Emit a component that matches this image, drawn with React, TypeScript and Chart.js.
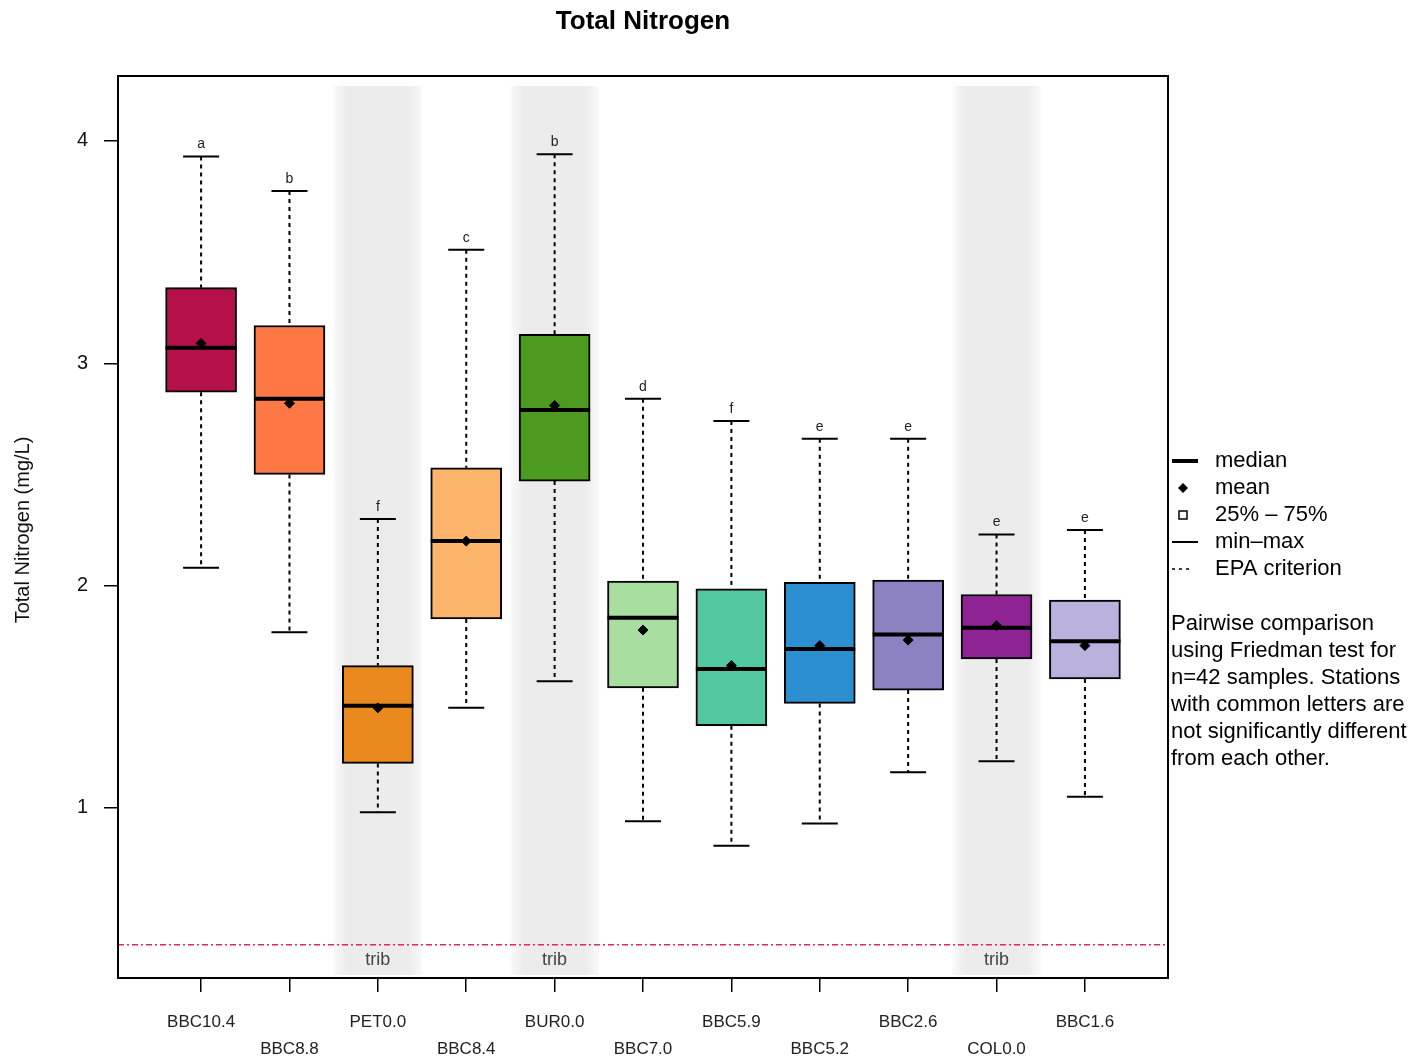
import React, { useEffect, useRef } from "react";
import { Chart, registerables } from "chart.js";

Chart.register(...registerables);

const stations = ["BBC10.4", "BBC8.8", "PET0.0", "BBC8.4", "BUR0.0", "BBC7.0", "BBC5.9", "BBC5.2", "BBC2.6", "COL0.0", "BBC1.6"];
const minVals = [2.08, 1.79, 0.98, 1.45, 1.57, 0.94, 0.83, 0.93, 1.16, 1.21, 1.05];
const q1Vals = [2.87, 2.50, 1.20, 1.85, 2.47, 1.54, 1.37, 1.47, 1.53, 1.67, 1.58];
const medianVals = [3.07, 2.84, 1.46, 2.20, 2.79, 1.855, 1.625, 1.715, 1.78, 1.81, 1.75];
const meanVals = [3.09, 2.82, 1.45, 2.20, 2.81, 1.80, 1.64, 1.73, 1.755, 1.82, 1.73];
const q3Vals = [3.34, 3.17, 1.64, 2.53, 3.13, 2.02, 1.985, 2.015, 2.025, 1.96, 1.935];
const maxVals = [3.93, 3.775, 2.30, 3.51, 3.94, 2.84, 2.74, 2.66, 2.66, 2.23, 2.25];
const letters = ["a", "b", "f", "c", "b", "d", "f", "e", "e", "e", "e"];
const isTrib = [false, false, true, false, true, false, false, false, false, true, false];
const boxColors = ["#b5104a", "#fd7845", "#ea891e", "#fdb56b", "#4d9a20", "#a8dea0", "#52c8a0", "#2c90d0", "#8c82c2", "#8e2493", "#bab2dd"];
const yTicks = [1, 2, 3, 4];
const epaCriterion = 0.384;
const legendItems = ["median", "mean", "25% \u2013 75%", "min\u2013max", "EPA criterion"];
const noteLines = ["Pairwise comparison", "using Friedman test for", "n=42 samples. Stations", "with common letters are", "not significantly different", "from each other."];

const FONT = "'Liberation Sans', Arial, sans-serif";

const boxPlugin = {
  id: "boxExtras",
  beforeDatasetsDraw(chart: any) {
    const { ctx, chartArea, scales } = chart;
    const xs = scales.x;
    const ys = scales.y;
    ctx.save();
    // tributary bands
    stations.forEach((_, i) => {
      if (!isTrib[i]) return;
      const x0 = xs.getPixelForValue(i + 1 - 0.5);
      const x1 = xs.getPixelForValue(i + 1 + 0.5);
      const top = chartArea.top + 10;
      const bot = chartArea.bottom - 3;
      const g = ctx.createLinearGradient(x0, 0, x1, 0);
      g.addColorStop(0, "rgba(236,236,236,0.3)");
      g.addColorStop(0.15, "rgba(236,236,236,1)");
      g.addColorStop(0.85, "rgba(236,236,236,1)");
      g.addColorStop(1, "rgba(236,236,236,0.3)");
      ctx.fillStyle = g;
      ctx.fillRect(x0, top, x1 - x0, bot - top);
      ctx.fillStyle = "#444";
      ctx.font = `18px ${FONT}`;
      ctx.textAlign = "center";
      ctx.textBaseline = "middle";
      ctx.fillText("trib", xs.getPixelForValue(i + 1), chartArea.bottom - 18);
    });
    // EPA line
    const ye = ys.getPixelForValue(epaCriterion);
    ctx.strokeStyle = "#e8264e";
    ctx.lineWidth = 1.5;
    ctx.setLineDash([6, 3, 2, 3]);
    ctx.beginPath();
    ctx.moveTo(chartArea.left, ye);
    ctx.lineTo(chartArea.right, ye);
    ctx.stroke();
    ctx.setLineDash([]);
    // whiskers
    stations.forEach((_, i) => {
      const xc = xs.getPixelForValue(i + 1);
      const yMin = ys.getPixelForValue(minVals[i]);
      const yQ1 = ys.getPixelForValue(q1Vals[i]);
      const yQ3 = ys.getPixelForValue(q3Vals[i]);
      const yMax = ys.getPixelForValue(maxVals[i]);
      ctx.strokeStyle = "#000";
      ctx.lineWidth = 2;
      ctx.setLineDash([4, 4]);
      ctx.beginPath();
      ctx.moveTo(xc, yMax);
      ctx.lineTo(xc, yQ3);
      ctx.moveTo(xc, yQ1);
      ctx.lineTo(xc, yMin);
      ctx.stroke();
      ctx.setLineDash([]);
      ctx.lineWidth = 2;
      ctx.beginPath();
      ctx.moveTo(xc - 18, yMax);
      ctx.lineTo(xc + 18, yMax);
      ctx.moveTo(xc - 18, yMin);
      ctx.lineTo(xc + 18, yMin);
      ctx.stroke();
      ctx.fillStyle = "#222";
      ctx.font = `14px ${FONT}`;
      ctx.textAlign = "center";
      ctx.textBaseline = "middle";
      ctx.fillText(letters[i], xc, yMax - 12);
    });
    ctx.restore();
  },
  afterDatasetsDraw(chart: any) {
    const { ctx, scales } = chart;
    const xs = scales.x;
    const ys = scales.y;
    ctx.save();
    stations.forEach((_, i) => {
      const xc = xs.getPixelForValue(i + 1);
      const ym = ys.getPixelForValue(medianVals[i]);
      ctx.strokeStyle = "#000";
      ctx.lineWidth = 4;
      ctx.beginPath();
      ctx.moveTo(xc - 35.5, ym);
      ctx.lineTo(xc + 35.5, ym);
      ctx.stroke();
    });
    ctx.restore();
  },
  afterDraw(chart: any) {
    const { ctx, chartArea } = chart;
    ctx.save();
    // frame
    ctx.strokeStyle = "#000";
    ctx.lineWidth = 2;
    ctx.strokeRect(chartArea.left, chartArea.top, chartArea.right - chartArea.left, chartArea.bottom - chartArea.top);
    // title
    ctx.fillStyle = "#000";
    ctx.font = `bold 26px ${FONT}`;
    ctx.textAlign = "center";
    ctx.textBaseline = "middle";
    ctx.fillText("Total Nitrogen", (chartArea.left + chartArea.right) / 2, 22);
    // y axis title
    ctx.save();
    ctx.translate(23, (chartArea.top + chartArea.bottom) / 2 + 3);
    ctx.rotate(-Math.PI / 2);
    ctx.font = `20px ${FONT}`;
    ctx.fillStyle = "#111";
    ctx.fillText("Total Nitrogen (mg/L)", 0, 0);
    ctx.restore();
    // legend
    const lx = 1172;
    const tx = 1215;
    const ly0 = 461;
    const step = 27;
    ctx.strokeStyle = "#000";
    ctx.fillStyle = "#000";
    // median
    ctx.lineWidth = 4;
    ctx.beginPath();
    ctx.moveTo(lx, ly0);
    ctx.lineTo(lx + 26, ly0);
    ctx.stroke();
    // mean
    const my = ly0 + step;
    ctx.beginPath();
    ctx.moveTo(lx + 11, my - 5);
    ctx.lineTo(lx + 16, my);
    ctx.lineTo(lx + 11, my + 5);
    ctx.lineTo(lx + 6, my);
    ctx.closePath();
    ctx.fill();
    // box
    ctx.lineWidth = 1.5;
    ctx.strokeRect(lx + 7, ly0 + 2 * step - 4, 8, 8);
    // min-max
    ctx.lineWidth = 2;
    ctx.beginPath();
    ctx.moveTo(lx, ly0 + 3 * step);
    ctx.lineTo(lx + 26, ly0 + 3 * step);
    ctx.stroke();
    // EPA
    ctx.lineWidth = 1.5;
    ctx.setLineDash([3, 4]);
    ctx.beginPath();
    ctx.moveTo(lx, ly0 + 4 * step);
    ctx.lineTo(lx + 18, ly0 + 4 * step);
    ctx.stroke();
    ctx.setLineDash([]);
    ctx.font = `22px ${FONT}`;
    ctx.textAlign = "left";
    ctx.textBaseline = "middle";
    ctx.fillStyle = "#000";
    legendItems.forEach((t, i) => ctx.fillText(t, tx, ly0 + i * step));
    noteLines.forEach((t, i) => ctx.fillText(t, 1171, 624 + i * 27));
    ctx.restore();
  },
};

export default function App() {
  const ref = useRef<HTMLCanvasElement | null>(null);
  useEffect(() => {
    if (!ref.current) return;
    const boxData = stations.map((_, i) => ({ x: i + 1, y: [q1Vals[i], q3Vals[i]] }));
    const meanData = stations.map((_, i) => ({ x: i + 1, y: meanVals[i] }));
    const chart = new Chart(ref.current, {
      type: "bar",
      data: {
        datasets: [
          {
            type: "bar",
            label: "25% - 75%",
            data: boxData as any,
            backgroundColor: boxColors,
            borderColor: "#000",
            borderWidth: 2,
            borderSkipped: false,
            barThickness: 71,
            order: 2,
          } as any,
          {
            type: "scatter",
            label: "mean",
            data: meanData,
            backgroundColor: "#000",
            borderColor: "#000",
            pointStyle: "rectRot",
            pointRadius: 5,
            order: 0,
          } as any,
        ],
      },
      options: {
        responsive: false,
        animation: false,
        layout: { padding: { left: 0, right: 253, top: 76, bottom: 0 } },
        plugins: { legend: { display: false }, tooltip: { enabled: false }, title: { display: false } },
        scales: {
          x: {
            type: "linear",
            min: 0.06,
            max: 11.94,
            offset: false,
            border: { display: false },
            grid: { offset: false, drawOnChartArea: false, drawTicks: true, tickLength: 14, color: "#000", lineWidth: 1.5 },
            afterBuildTicks: (scale: any) => {
              scale.ticks = stations.map((_, i) => ({ value: i + 1 }));
            },
            afterFit: (scale: any) => {
              scale.height = 83;
            },
            ticks: {
              autoSkip: false,
              maxRotation: 0,
              minRotation: 0,
              padding: 17,
              color: "#222",
              font: { family: FONT, size: 17, lineHeight: 1.6 },
              callback: (v: any) => {
                const i = Math.round(Number(v)) - 1;
                const name = stations[i] ?? "";
                return i % 2 === 1 ? ["", name] : name;
              },
            },
          },
          y: {
            type: "linear",
            min: 0.235,
            max: 4.292,
            border: { display: false },
            grid: { drawOnChartArea: false, drawTicks: true, tickLength: 14, color: "#000", lineWidth: 1.5 },
            afterBuildTicks: (scale: any) => {
              scale.ticks = yTicks.map((v) => ({ value: v }));
            },
            afterFit: (scale: any) => {
              scale.width = 118;
            },
            ticks: {
              padding: 16,
              color: "#111",
              font: { family: FONT, size: 20 },
              callback: (v: any) => String(v),
            },
          },
        },
      } as any,
      plugins: [boxPlugin],
    });
    return () => chart.destroy();
  }, []);
  return (
    <div style={{ position: "fixed", left: 0, top: 0, width: 1421, height: 1061, background: "#fff" }}>
      <canvas ref={ref} width={1421} height={1061} />
    </div>
  );
}
